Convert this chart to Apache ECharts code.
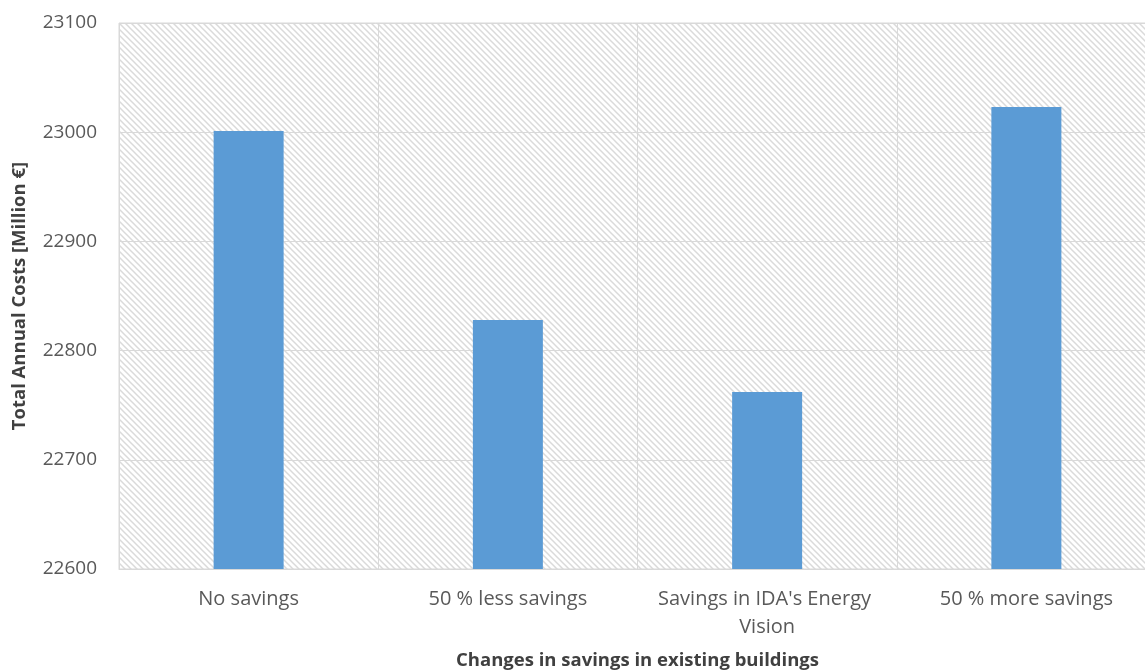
<!DOCTYPE html>
<html>
<head>
<meta charset="utf-8">
<script src="https://cdn.jsdelivr.net/npm/echarts@6/dist/echarts.min.js"></script>
<style>
html,body{margin:0;padding:0;background:#fff;}
#chart{width:1145px;height:671px;}
</style>
</head>
<body>
<div id="chart"></div>
<script>
const categories = ["No savings", "50 % less savings", "Savings in IDA's Energy Vision", "50 % more savings"];
const totalCosts = [23001, 22828, 22762, 23023];
const yTicks = { min: 22600, max: 23100, interval: 100 };
const xAxisTitle = "Changes in savings in existing buildings";
const yAxisTitle = "Total Annual Costs [Million €]";

function hatchPattern() {
  const s = 6;
  const c = document.createElement('canvas');
  c.width = s; c.height = s;
  const ctx = c.getContext('2d');
  ctx.fillStyle = '#ffffff';
  ctx.fillRect(0, 0, s, s);
  ctx.strokeStyle = '#dadada';
  ctx.lineWidth = 1.5;
  for (const off of [-s, 0, s]) {
    ctx.beginPath();
    ctx.moveTo(off - 1, -1);
    ctx.lineTo(off + s + 1, s + 1);
    ctx.stroke();
  }
  return { image: c, repeat: 'repeat' };
}

const font = "'Open Sans', 'Noto Sans', sans-serif";
const chart = echarts.init(document.getElementById('chart'), null, { renderer: 'canvas' });
chart.setOption({
  animation: false,
  backgroundColor: '#ffffff',
  grid: {
    left: 119, width: 1037, top: 23, height: 546,
    outerBoundsMode: 'none',
    containLabel: false,
    show: true,
    backgroundColor: hatchPattern(),
    borderColor: '#d9d9d9', borderWidth: 1
  },
  xAxis: {
    type: 'category',
    data: categories,
    name: xAxisTitle,
    nameLocation: 'middle',
    nameGap: 82,
    nameTextStyle: { fontFamily: font, fontSize: 18.5, fontWeight: 'bold', color: '#404040' },
    axisLine: { show: true, lineStyle: { color: '#d9d9d9', width: 1 } },
    axisTick: { show: false },
    axisLabel: {
      fontFamily: font, fontSize: 20, color: '#595959', margin: 16,
      width: 240, overflow: 'break', lineHeight: 28, interval: 0
    },
    splitLine: { show: true, lineStyle: { color: '#d9d9d9', width: 1 } }
  },
  yAxis: {
    type: 'value',
    min: yTicks.min, max: yTicks.max, interval: yTicks.interval,
    name: yAxisTitle,
    nameLocation: 'middle',
    nameGap: 90,
    nameTextStyle: { fontFamily: font, fontSize: 18.5, fontWeight: 'bold', color: '#404040' },
    axisLine: { show: false },
    axisTick: { show: false },
    axisLabel: {
      fontFamily: font, fontSize: 19, color: '#595959', margin: 22,
      formatter: v => String(v)
    },
    splitLine: { show: true, lineStyle: { color: '#d9d9d9', width: 1 } }
  },
  series: [{
    type: 'bar',
    data: totalCosts,
    barWidth: 70,
    itemStyle: { color: '#5b9bd5' }
  }]
});
</script>
</body>
</html>
